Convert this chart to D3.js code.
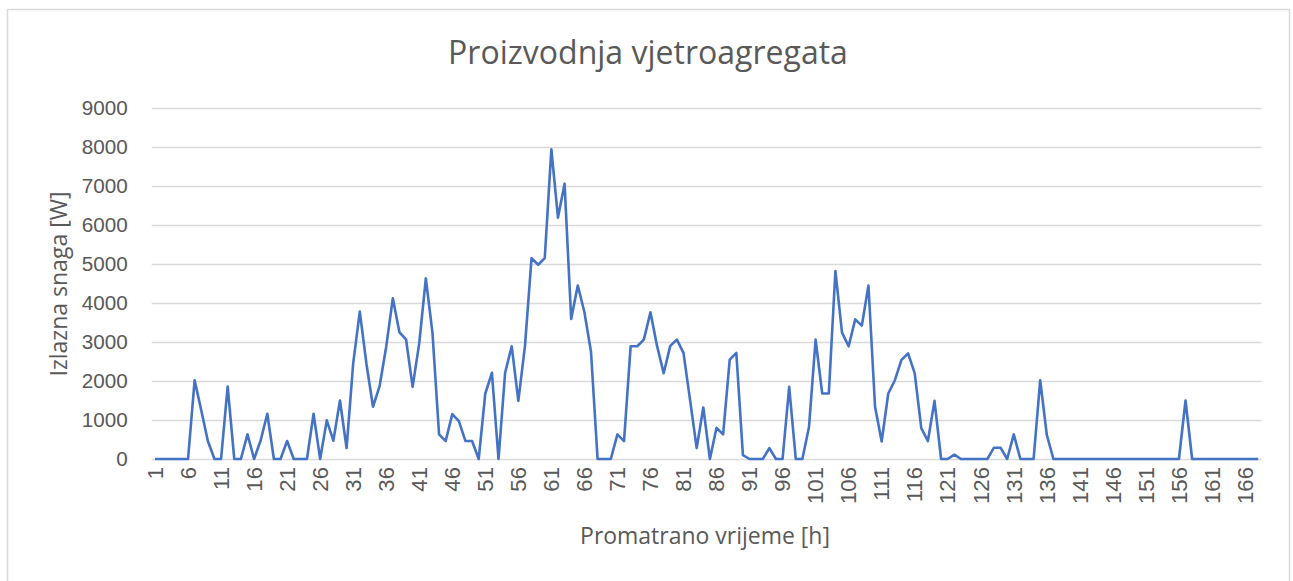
<!DOCTYPE html>
<html>
<head>
<meta charset="utf-8">
<script src="https://cdn.jsdelivr.net/npm/d3@7"></script>
<style>
  html, body { margin: 0; padding: 0; background: #fff; }
  svg { display: block; font-family: "Open Sans", "Noto Sans", sans-serif; }
</style>
</head>
<body>
<svg id="chart" width="1293" height="581"></svg>
<script>
// Hourly output of the wind turbine over one week (168 h)
var hours = d3.range(1, 169);
var power = [
  0, 0, 0, 0, 0, 0, 2020, 1250, 460, 0,
  0, 1860, 0, 0, 630, 0, 480, 1160, 0, 0,
  460, 0, 0, 0, 1160, 0, 990, 470, 1500, 280,
  2450, 3780, 2450, 1340, 1870, 2880, 4120, 3250, 3070, 1850,
  2970, 4630, 3240, 630, 460, 1150, 970, 460, 460, 0,
  1680, 2210, 0, 2210, 2890, 1490, 2890, 5150, 4980, 5150,
  7940, 6190, 7060, 3590, 4450, 3770, 2750, 0, 0, 0,
  630, 460, 2890, 2890, 3060, 3760, 2900, 2200, 2900, 3060,
  2720, 1510, 280, 1320, 0, 800, 630, 2550, 2720, 100,
  0, 0, 0, 280, 0, 0, 1850, 0, 0, 820,
  3060, 1680, 1680, 4820, 3240, 2890, 3580, 3420, 4450, 1340,
  450, 1680, 2020, 2540, 2710, 2200, 790, 460, 1490, 0,
  0, 110, 0, 0, 0, 0, 0, 290, 290, 0,
  630, 0, 0, 0, 2020, 620, 0, 0, 0, 0,
  0, 0, 0, 0, 0, 0, 0, 0, 0, 0,
  0, 0, 0, 0, 0, 0, 1500, 0, 0, 0,
  0, 0, 0, 0, 0, 0, 0, 0
];
var yTicks = d3.range(0, 9001, 1000);
var xTickLabels = hours.filter(function (h) { return (h - 1) % 5 === 0; });

var TEXT = '#595959';
var GRID = '#d9d9d9';
var LINE = '#4472c4';

var svg = d3.select('#chart');
var plot = { left: 151.7, right: 1261.5, top: 108, bottom: 459 };

// scale a text's font so its rendered length matches the reference
function fitFont(sel, target) {
  var node = sel.node();
  var base = 20;
  sel.style('font-size', base + 'px');
  var w = node.getComputedTextLength();
  var size = w > 0 ? base * target / w : base;
  return size;
}

// chart border
svg.append('rect')
  .attr('x', 7.5).attr('y', 9.5)
  .attr('width', 1282).attr('height', 600)
  .attr('fill', 'none')
  .attr('stroke', GRID)
  .attr('stroke-width', 1.5);

var x = d3.scaleBand()
  .domain(hours)
  .range([plot.left, plot.right])
  .padding(0);

var y = d3.scaleLinear()
  .domain([0, 9000])
  .range([plot.bottom, plot.top]);

function cx(h) { return x(h) + x.bandwidth() / 2; }

// gridlines + y labels
var yAxis = d3.axisLeft(y)
  .tickValues(yTicks)
  .tickSize(-(plot.right - plot.left))
  .tickPadding(24)
  .tickFormat(d3.format('d'));

var gy = svg.append('g')
  .attr('transform', 'translate(' + plot.left + ',0)')
  .call(yAxis);
gy.select('.domain').remove();
gy.selectAll('.tick line').attr('stroke', GRID).attr('stroke-width', 1.3);
var yTickText = gy.selectAll('.tick text').attr('fill', TEXT);
var ySize = fitFont(gy.selectAll('.tick text').filter(function (d) { return d === 9000; }), 46);
yTickText.style('font-size', ySize + 'px');

// x axis: labels only, rotated
var xAxis = d3.axisBottom(x)
  .tickValues(xTickLabels)
  .tickSize(0)
  .tickPadding(0);

var gx = svg.append('g')
  .attr('transform', 'translate(0,' + plot.bottom + ')')
  .call(xAxis);
gx.select('.domain').remove();
var xTickText = gx.selectAll('.tick text').attr('fill', TEXT);
var xSize = fitFont(gx.selectAll('.tick text').filter(function (d) { return d === 166; }), 37);
xTickText
  .style('font-size', xSize + 'px')
  .attr('transform', 'rotate(-90)')
  .attr('text-anchor', 'end')
  .attr('x', -8)
  .attr('y', 0)
  .attr('dy', '0.35em');

// series line
var line = d3.line()
  .x(function (d, i) { return cx(hours[i]); })
  .y(function (d) { return y(d); });

svg.append('path')
  .datum(power)
  .attr('d', line)
  .attr('fill', 'none')
  .attr('stroke', LINE)
  .attr('stroke-width', 2.6)
  .attr('stroke-linejoin', 'round');

// title and axis titles
var title = svg.append('text')
  .attr('x', 648).attr('y', 64)
  .attr('text-anchor', 'middle')
  .attr('fill', TEXT)
  .text('Proizvodnja vjetroagregata');
title.style('font-size', fitFont(title, 400) + 'px');

var yTitle = svg.append('text')
  .attr('text-anchor', 'middle')
  .attr('fill', TEXT)
  .text('Izlazna snaga [W]');
var ytSize = fitFont(yTitle, 185);
yTitle.style('font-size', ytSize + 'px')
  .attr('transform', 'translate(' + (59 + ytSize * 0.36) + ',284) rotate(-90)');

var xTitle = svg.append('text')
  .attr('x', 705).attr('y', 544)
  .attr('text-anchor', 'middle')
  .attr('fill', TEXT)
  .text('Promatrano vrijeme [h]');
xTitle.style('font-size', fitFont(xTitle, 250) + 'px');
</script>
</body>
</html>
